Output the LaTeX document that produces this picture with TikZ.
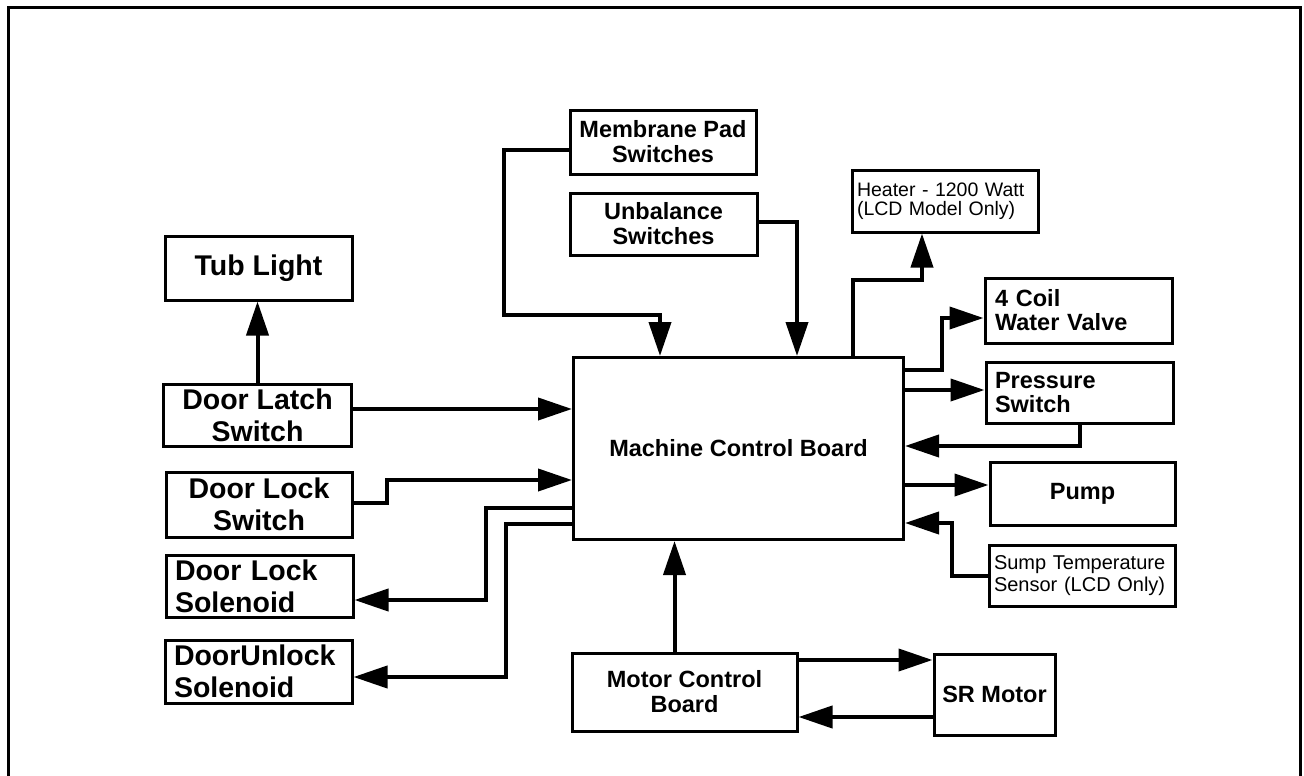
\documentclass[tikz,border=0pt]{standalone}
\usepackage{fontspec}
\setmainfont{Liberation Sans}
\usepackage{tikz}
\usetikzlibrary{arrows.meta}

\begin{document}
\begin{tikzpicture}[x=1pt,y=-1pt,>={Triangle[length=34pt,width=22pt]},
  blk/.style={draw,line width=3pt,inner sep=0pt,align=center,font=\bfseries\fontsize{23.5}{25}\selectfont},
  bigblk/.style={blk,font=\bfseries\fontsize{28.5}{32}\selectfont},
  smallblk/.style={blk,align=left,font=\fontsize{19.5}{19}\selectfont},
  wire/.style={->,line width=4pt}]
  \useasboundingbox (0,0) rectangle (1304,776);
  \draw[line width=3pt] (8,776) -- (8,8) -- (1300,8) -- (1300,776);

  % left column
  \node[bigblk,minimum width=187pt,minimum height=64pt] (tub) at (258.5,268) {Tub Light};
  \node[bigblk,minimum width=188pt,minimum height=62pt] (dlatch) at (257.5,415) {Door Latch\\Switch};
  \node[bigblk,minimum width=186pt,minimum height=65pt] (dlsw) at (259,504.5) {Door Lock\\Switch};
  \node[bigblk,align=left,text width=169pt,minimum width=187pt,minimum height=62pt] (dlsol) at (259.5,586) {Door Lock\\Solenoid};
  \node[bigblk,align=left,text width=169pt,minimum width=187pt,minimum height=63pt] (dusol) at (258.5,671.5) {DoorUnlock\\Solenoid};

  % centre
  \node[blk,minimum width=330pt,minimum height=182pt] (mcb) at (738.5,448.5) {Machine Control Board};
  \node[blk,minimum width=186pt,minimum height=64pt] (membrane) at (663,142) {Membrane Pad\\Switches};
  \node[blk,minimum width=187pt,minimum height=62pt] (unbal) at (663.5,224) {Unbalance\\Switches};
  \node[blk,minimum width=225pt,minimum height=78pt] (mocb) at (684.5,692) {Motor Control\\Board};
  \node[blk,minimum width=121pt,minimum height=81pt] (srm) at (994.5,694.5) {SR Motor};

  % right column
  \node[smallblk,text width=176pt,minimum width=186pt,minimum height=62pt] (heater) at (945,201) {Heater - 1200 Watt\\(LCD Model Only)};
  \node[blk,align=left,font=\bfseries\fontsize{23.5}{24}\selectfont,text width=167pt,minimum width=187pt,minimum height=65pt] (valve) at (1078.5,310.5) {4 Coil\\Water Valve};
  \node[blk,align=left,font=\bfseries\fontsize{23.5}{24}\selectfont,text width=169pt,minimum width=187pt,minimum height=61pt] (pswitch) at (1079.5,392.5) {Pressure\\Switch};
  \node[blk,minimum width=185pt,minimum height=63pt] (pump) at (1082.5,493.5) {Pump};
  \node[smallblk,font=\fontsize{20}{22.5}\selectfont,text width=176pt,minimum width=186pt,minimum height=61pt] (sump) at (1082,575.5) {Sump Temperature\\Sensor (LCD Only)};

  % wiring
  \draw[wire] (dlatch.north) -- (dlatch.north |- tub.south);
  \draw[wire] ([yshift=6pt]dlatch.east) -- ([yshift=6pt]dlatch.east -| mcb.west);
  \draw[wire] ([yshift=2pt]dlsw.east) -- ++(33,0) |- ([yshift=-31.5pt]mcb.west);
  \draw[wire] ([yshift=-59.5pt]mcb.west) -- ++(-86,0) |- ([yshift=-14pt]dlsol.east);
  \draw[wire] ([yshift=-75.5pt]mcb.west) -- ++(-66,0) |- ([yshift=-5.5pt]dusol.east);
  \draw[wire] ([yshift=-8pt]membrane.west) -| ++(-65,165) -| ([xshift=-78.5pt]mcb.north);
  \draw[wire] ([yshift=2pt]unbal.east) -| ([xshift=58.5pt]mcb.north);
  \draw[wire] ([xshift=114.5pt]mcb.north) -- ++(0,-76) -| ([xshift=-23pt]heater.south);
  \draw[wire] ([yshift=78.5pt]mcb.east) -- ++(37,0) |- ([yshift=-7.5pt]valve.west);
  \draw[wire] ([yshift=58.5pt]mcb.east) -- ([yshift=2.5pt]pswitch.west);
  \draw[wire] (pswitch.south) |- ([yshift=2.5pt]mcb.east);
  \draw[wire] ([yshift=-36.5pt]mcb.east) -- ([yshift=8.5pt]pump.west);
  \draw[wire] (sump.west) -- ++(-36,0) |- ([yshift=-74.5pt]mcb.east);
  \draw[wire] ([xshift=-10pt]mocb.north) -- ([xshift=-10pt]mocb.north |- mcb.south);
  \draw[wire] ([yshift=32pt]mocb.east) -- ([yshift=34.5pt]srm.west);
  \draw[wire] ([yshift=-22.5pt]srm.west) -- ([yshift=-25pt]mocb.east);
\end{tikzpicture}
\end{document}
